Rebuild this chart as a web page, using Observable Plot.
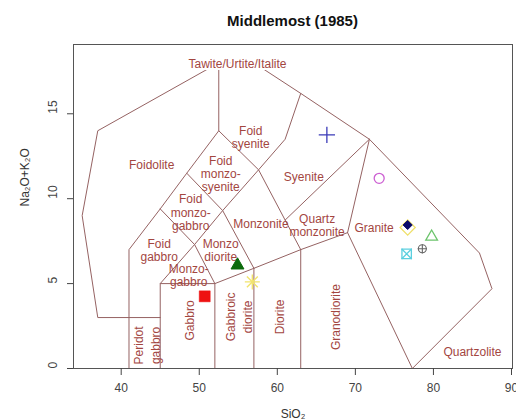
<!DOCTYPE html>
<html>
<head>
<meta charset="utf-8">
<script src="https://cdn.jsdelivr.net/npm/d3@7"></script>
<script src="https://cdn.jsdelivr.net/npm/@observablehq/plot@0.6"></script>
<style>
  html, body { margin: 0; padding: 0; background: #fff; }
  #wrap { width: 516px; height: 420px; overflow: hidden; font-family: 'Liberation Sans', Arial, sans-serif; }
  #title { height: 34px; box-sizing: border-box; padding: 12px 4px 0 73px; text-align: center;
           font-weight: bold; font-size: 15px; line-height: 17px; color: #111; }
  svg { display: block; }
</style>
</head>
<body>
<div id="wrap">
  <div id="title">Middlemost (1985)</div>
  <div id="chart"></div>
</div>
<script>
// ---- Axis ticks ----
const xTicks = [40, 50, 60, 70, 80, 90];
const yTicks = [0, 5, 10, 15];

// ---- Field boundary polylines (SiO2, Na2O+K2O) ----
const outerBoundary = [[45,3],[37,3],[35,9],[37,14],[52.5,18],[57,18],[63,16.2],[71.8,13.5],[85.9,6.8],[87.5,4.7],[77.3,0]];
const foidoliteInner = [[41,0],[41,7],[45,9.4],[48.4,11.5],[52.5,14],[52.5,18]];
const gabbroBox = [[45,0],[45,5],[52,5],[52,0]];
const subalkalineTop = [[52,5],[57,5.9],[63,7],[69,8],[77.3,0]];
const dioriteLeft = [[57,0],[57,5.9]];
const granodioriteLeft = [[63,0],[63,7]];
const alkalineLine1 = [[45,5],[49.4,7.3],[53,9.3],[57.6,11.7],[61,13.5],[63,16.2]];
const alkalineLine2 = [[45,9.4],[49.4,7.3],[52,5]];
const alkalineLine3 = [[48.4,11.5],[53,9.3],[57,5.9]];
const alkalineLine4 = [[52.5,14],[57.6,11.7],[63,7]];
const quartzMonzoniteTop = [[61,8.74],[71.8,13.5]];
const graniteLeft = [[69,8],[71.8,13.5]];
const boundaries = [outerBoundary, foidoliteInner, gabbroBox, subalkalineTop, dioriteLeft,
  granodioriteLeft, alkalineLine1, alkalineLine2, alkalineLine3, alkalineLine4, quartzMonzoniteTop, graniteLeft];

// ---- Field labels ----
const topName = ["Tawite/Urtite/Italite"];
const topSiO2 = [54.9];
const topAlk = [17.95];

const fieldNames = ["Foidolite", "Foid\nsyenite", "Foid\nmonzo-\nsyenite",
  "Foid\nmonzo-\ngabbro", "Foid\ngabbro", "Monzo\ndiorite", "Monzo-\ngabbro", "Monzonite", "Syenite",
  "Quartz\nmonzonite", "Granite", "Quartzolite"];
const fieldSiO2 = [43.9, 56.6, 52.75, 48.9, 44.87, 52.75, 48.65, 57.9, 63.4, 65.1, 72.4, 85.0];
const fieldAlk  = [12.0, 13.6, 11.45, 9.2, 6.97, 6.97, 5.49, 8.5, 11.3, 8.45, 8.29, 0.96];

const verticalNames = ["Peridot\ngabbro", "Gabbro", "Gabbroic\ndiorite", "Diorite", "Granodiorite"];
const verticalSiO2 = [43.2, 48.7, 55.0, 60.2, 67.3];
const verticalAlk  = [1.36, 2.83, 3.04, 3.04, 3.03];

// ---- Samples ----
const sampleIds    = ["A", "B", "C", "D", "E", "F", "G", "H", "I", "J"];
const sampleSiO2   = [66.35, 73.05, 76.7, 76.7, 79.77, 78.58, 76.57, 54.9, 56.8, 50.7];
const sampleAlkali = [13.76, 11.2, 8.3, 8.45, 7.76, 7.05, 6.75, 6.08, 5.1, 4.25];

// ---- Build tables ----
const lineRows = boundaries.flatMap((pts, i) => pts.map(([x, y]) => ({id: i, x, y})));
const toLabels = (names, xs, ys) => names.map((t, i) => ({t, x: xs[i], y: ys[i]}));
const topLabel = toLabels(topName, topSiO2, topAlk);
const labels = toLabels(fieldNames, fieldSiO2, fieldAlk);
const vlabels = toLabels(verticalNames, verticalSiO2, verticalAlk);
const samples = sampleIds.map((id, i) => ({id, x: sampleSiO2[i], y: sampleAlkali[i]}));
const pick = id => samples.filter(d => d.id === id);

// marker styles per sample
const markerStyles = [
  {id: "A", symbol: "plus", r: 5.3, stroke: "#3b3bb8", fill: "none", sw: 1.3},
  {id: "B", symbol: "circle", r: 5, stroke: "#cc5fd2", fill: "none", sw: 1.3},
  {id: "C", symbol: "diamond2", r: 6.8, stroke: "#efe06a", fill: "none", sw: 1.3},
  {id: "D", symbol: "diamond2", r: 4.1, stroke: "#0a0a6a", fill: "#0a0a6a", sw: 1},
  {id: "E", symbol: "triangle2", r: 5.6, stroke: "#6cc46c", fill: "none", sw: 1.3},
  {id: "F", symbol: "circle", r: 4, stroke: "#666", fill: "none", sw: 1.1},
  {id: "F", symbol: "plus", r: 3.1, stroke: "#666", fill: "none", sw: 1.1},
  {id: "G", symbol: "square2", r: 6.0, stroke: "#5ccfdf", fill: "none", sw: 1.3},
  {id: "G", symbol: "times", r: 4.7, stroke: "#5ccfdf", fill: "none", sw: 1.3},
  {id: "H", symbol: "triangle", r: 4.8, stroke: "#0b6a0b", fill: "#0b6a0b", sw: 1},
  {id: "I", symbol: "plus", r: 4.9, stroke: "#f2e46c", fill: "none", sw: 1.4},
  {id: "I", symbol: "times", r: 5.0, stroke: "#f2e46c", fill: "none", sw: 1.4},
  {id: "J", symbol: "square", r: 6.2, stroke: "#ee1111", fill: "#ee1111", sw: 0.5}
];

const labelColor = "#a3463f";
const lineColor = "#956262";

const chart = Plot.plot({
  width: 516,
  height: 386,
  marginTop: 10,
  marginLeft: 73,
  marginRight: 4,
  marginBottom: 52,
  x: {domain: [33.89, 90.13]},
  y: {domain: [0, 19.08]},
  style: {fontFamily: "'Liberation Sans', Arial, sans-serif", fontSize: "12px", color: "#444", background: "#fff", overflow: "visible"},
  marks: [
    Plot.line(lineRows, {x: "x", y: "y", z: "id", stroke: lineColor, strokeWidth: 1}),
    Plot.frame({stroke: "#555", strokeWidth: 1}),
    Plot.axisX({ticks: xTicks, tickSize: 7, tickPadding: 8, label: null, fontSize: 12}),
    Plot.axisY({ticks: yTicks, tickSize: 6, tickFormat: () => "", label: null}),
    Plot.text(yTicks, {y: d => d, text: d => String(d), frameAnchor: "left", dx: -20, rotate: -90, fontSize: 12, fill: "#444"}),
    Plot.text(["SiO₂"], {text: d => d, frameAnchor: "bottom", dy: 49, fontSize: 12, fill: "#333"}),
    Plot.text(["Na₂O+K₂O"], {text: d => d, frameAnchor: "left", dx: -48, rotate: -90, fontSize: 12, fill: "#333"}),
    Plot.text(topLabel, {x: "x", y: "y", text: "t", fill: labelColor, fontSize: 12, stroke: "#fff", strokeWidth: 4, paintOrder: "stroke"}),
    Plot.text(labels, {x: "x", y: "y", text: "t", fill: labelColor, fontSize: 12, lineHeight: 1.1}),
    Plot.text(vlabels, {x: "x", y: "y", text: "t", fill: labelColor, fontSize: 12, lineHeight: 1.4, rotate: -90}),
    ...markerStyles.map(s => Plot.dot(pick(s.id), {x: "x", y: "y", symbol: s.symbol, r: s.r,
      stroke: s.stroke, fill: s.fill, strokeWidth: s.sw}))
  ]
});
document.getElementById("chart").appendChild(chart);
</script>
</body>
</html>
